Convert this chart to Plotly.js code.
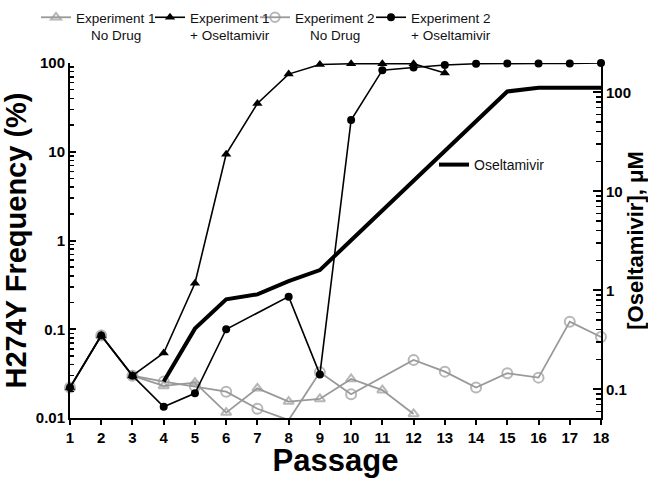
<!DOCTYPE html>
<html>
<head>
<meta charset="utf-8">
<script src="https://cdn.plot.ly/plotly-3.0.1.min.js"></script>
<style>html,body{margin:0;padding:0;background:#fff;}#chart{width:648px;height:478px;}</style>
</head>
<body>
<div id="chart"></div>
<script>
// ---- data ----
var passage = [1,2,3,4,5,6,7,8,9,10,11,12,13,14,15,16,17,18];
var exp1NoDrug = [0.022,0.085,0.030,0.023,0.025,0.0115,0.0216,0.0153,0.0164,0.0275,0.0206,0.0111,null,null,null,null,null,null];
var exp1Osel   = [0.022,0.085,0.030,0.054,0.33,9.4,35,75,96,98,98,98,77,null,null,null,null,null];
var exp2NoDrug = [0.022,0.085,0.030,0.0257,0.0226,0.0198,0.0127,0.0095,0.0327,0.0185,null,0.045,0.0333,0.022,0.0319,0.0285,0.1217,0.0818];
var exp2Osel   = [0.022,0.085,0.030,0.0134,0.019,0.10,null,0.233,0.031,22.8,83,89,95,98,99,99,99,100];
var oseltamivirConc = [null,null,null,0.12,0.41,0.81,0.91,1.24,1.6,3.2,6.4,12.8,25.6,51.2,102,111,111,111];

var seriesNames = ['Experiment 1<br>\u00a0\u00a0\u00a0\u00a0No Drug', 'Experiment 1<br>+ Oseltamivir',
                   'Experiment 2<br>\u00a0\u00a0\u00a0\u00a0No Drug', 'Experiment 2<br>+ Oseltamivir'];
var concName = 'Oseltamivir';

var leftTickVals = [0.01,0.1,1,10,100];
var leftTickText = ['0.01','0.1','1','10','100'];
var rightTickVals = [0.1,1,10,100];
var rightTickText = ['0.1','1','10','100'];

var xTitle = 'Passage';
var yTitle = 'H274Y Frequency (%)';
var y2Title = '[Oseltamivir], \u03bcM';

// minor tick positions (2..9 within each decade)
function minorTicks(lo, hi) {
  var out = [];
  for (var e = -3; e <= 3; e++) {
    for (var m = 2; m <= 9; m++) {
      var v = m * Math.pow(10, e);
      if (v > lo && v < hi) out.push(v);
    }
  }
  return out;
}

var FONT = 'Arial, "Liberation Sans", sans-serif';
var GRAY = '#999999';
var yMin = 0.01;

function sizes(arr, s) { return arr.map(function (v) { return (v !== null && v < yMin) ? 0 : s; }); }

var traces = [
  {x: passage, y: exp1NoDrug, name: seriesNames[0], legend: 'legend', mode: 'lines+markers', connectgaps: true, cliponaxis: false,
   line: {color: GRAY, width: 1.8},
   marker: {symbol: 'triangle-up-open', size: sizes(exp1NoDrug, 9), color: GRAY, line: {width: 2, color: GRAY}}},
  {x: passage, y: exp2NoDrug, name: seriesNames[2], legend: 'legend4', mode: 'lines+markers', connectgaps: true, cliponaxis: false,
   line: {color: GRAY, width: 1.8},
   marker: {symbol: 'circle-open', size: sizes(exp2NoDrug, 10), color: GRAY, line: {width: 2, color: GRAY}}},
  {x: passage, y: exp1Osel, name: seriesNames[1], legend: 'legend3', mode: 'lines+markers', connectgaps: true, cliponaxis: false,
   line: {color: '#000', width: 1.6},
   marker: {symbol: 'triangle-up', size: 9, color: '#000'}},
  {x: passage, y: exp2Osel, name: seriesNames[3], legend: 'legend5', mode: 'lines+markers', connectgaps: true, cliponaxis: false,
   line: {color: '#000', width: 1.6},
   marker: {symbol: 'circle', size: 8, color: '#000'}},
  {x: passage, y: oseltamivirConc, name: concName, yaxis: 'y2', mode: 'lines', legend: 'legend2',
   line: {color: '#000', width: 4}}
];

// plot area in px: x 70..601, y 63..418
function px2paperX(p) { return (p - 70) / 531; }
function px2paperY(p) { return (418 - p) / 355; }
function topLegend(pxX) {
  return {x: px2paperX(pxX), xanchor: 'left', y: px2paperY(2), yanchor: 'top', valign: 'top',
          bgcolor: 'rgba(0,0,0,0)', borderwidth: 0, font: {family: FONT, size: 13.5, color: '#111'}};
}

var layout = {
  width: 648, height: 478,
  margin: {l: 70, r: 47, t: 63, b: 60, autoexpand: false},
  paper_bgcolor: '#fff', plot_bgcolor: '#fff',
  font: {family: FONT, color: '#000'},
  showlegend: true,
  xaxis: {
    range: [1, 18], tickvals: passage, ticktext: passage.map(String),
    showline: true, linecolor: '#000', linewidth: 2, showgrid: false, zeroline: false,
    ticks: 'outside', ticklen: 5, tickwidth: 2, tickcolor: '#000',
    tickfont: {family: FONT, size: 15, weight: 'bold'},
    title: {text: xTitle, font: {family: FONT, size: 31, weight: 'bold'}, standoff: 15}
  },
  yaxis: {
    type: 'log', range: [-2, 2], tickvals: leftTickVals, ticktext: leftTickText,
    showline: true, linecolor: '#000', linewidth: 2, showgrid: false, zeroline: false,
    ticks: 'inside', ticklen: 6, tickwidth: 2, tickcolor: '#000',
    minor: {tickvals: minorTicks(0.01, 100), ticks: 'inside', ticklen: 4, tickwidth: 1.5, tickcolor: '#000', showgrid: false},
    tickfont: {family: FONT, size: 15, weight: 'bold'},
    title: {text: yTitle, font: {family: FONT, size: 29, weight: 'bold'}, standoff: 12}
  },
  yaxis2: {
    type: 'log', overlaying: 'y', side: 'right', range: [-1.29, 2.296],
    tickvals: rightTickVals, ticktext: rightTickText,
    showline: true, linecolor: '#000', linewidth: 2, showgrid: false, zeroline: false,
    ticks: 'inside', ticklen: 8, tickwidth: 2, tickcolor: '#000',
    minor: {tickvals: minorTicks(0.05, 200), ticks: 'inside', ticklen: 5, tickwidth: 1.5, tickcolor: '#000', showgrid: false},
    tickfont: {family: FONT, size: 15, weight: 'bold'},
    title: {text: y2Title, font: {family: FONT, size: 22, weight: 'bold'}, standoff: 14}
  },
  legend: topLegend(36),
  legend3: topLegend(150),
  legend4: topLegend(255),
  legend5: topLegend(371),
  legend2: {
    x: px2paperX(434), xanchor: 'left', y: px2paperY(165), yanchor: 'middle', bgcolor: 'rgba(0,0,0,0)',
    borderwidth: 0, font: {family: FONT, size: 14, color: '#111'}
  }
};

Plotly.newPlot('chart', traces, layout, {displayModeBar: false, staticPlot: true});
</script>
</body>
</html>
